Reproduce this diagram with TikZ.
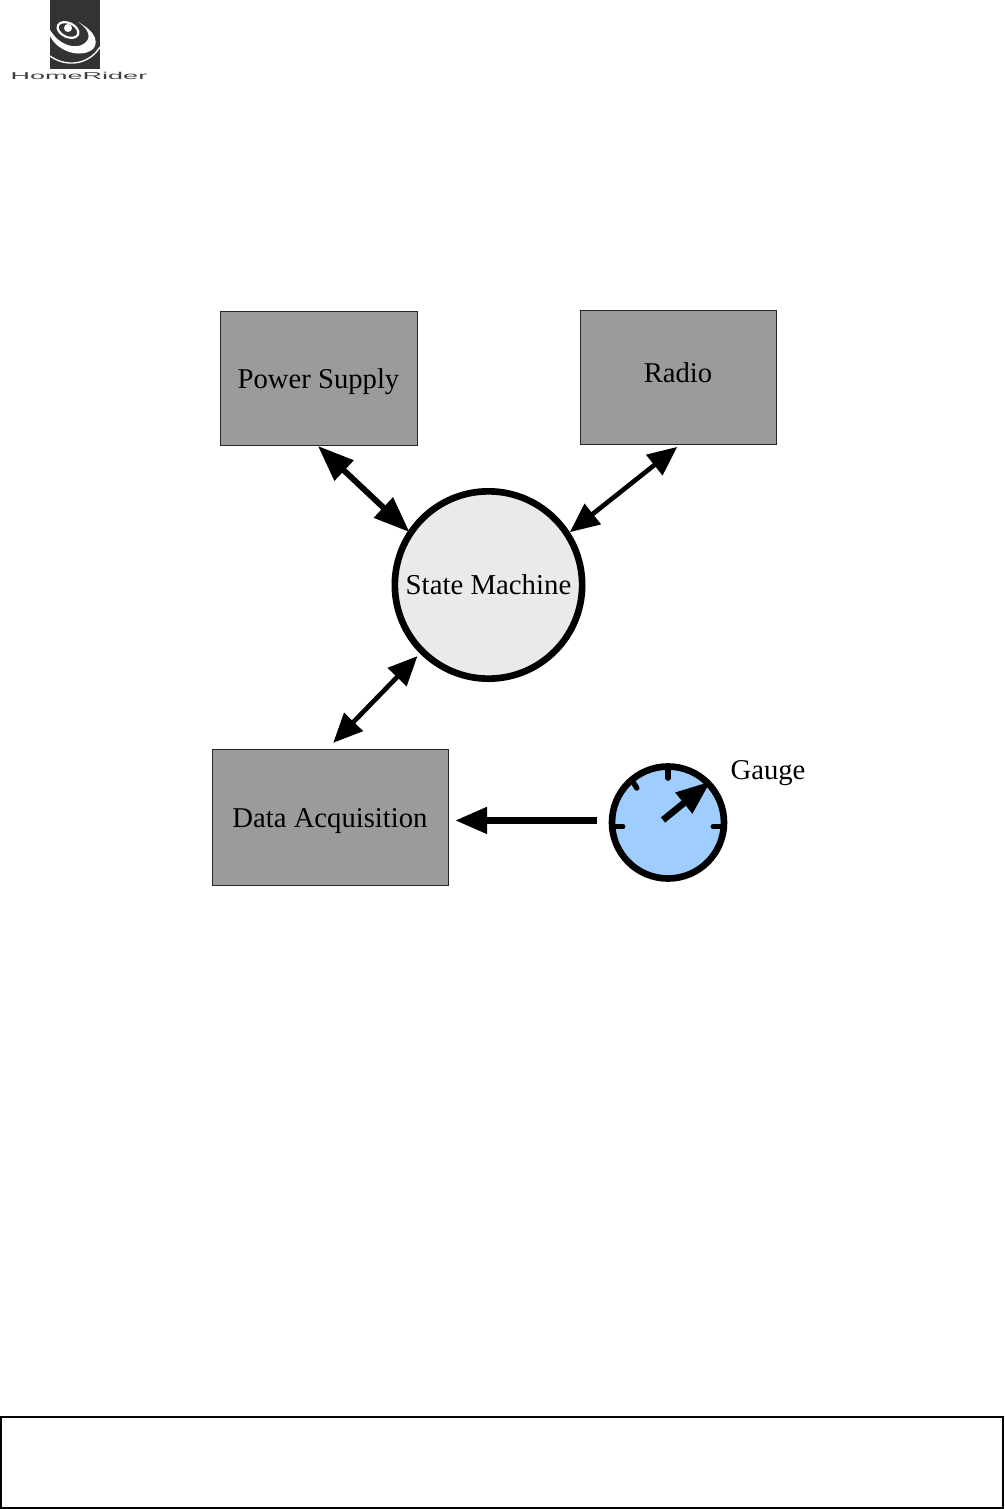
\documentclass[tikz,border=0pt]{standalone}
\usepackage{fontspec}
\setmainfont{Liberation Serif}
\newfontfamily\logofont{Liberation Sans}
\usetikzlibrary{arrows.meta}
\definecolor{boxgray}{HTML}{9C9A9C}
\definecolor{machinegray}{HTML}{ECE9EC}
\definecolor{gaugeblue}{HTML}{9FCDFD}
\definecolor{logodark}{HTML}{333333}
\tikzset{
    blockbox/.style={draw=black!85,line width=0.6pt,fill=boxgray,inner sep=0pt,text height=20pt,text depth=5pt,font=\fontsize{21.5pt}{24pt}\selectfont},
    linkbig/.style={line width=4.4pt,{Triangle[length=27pt,width=20pt]}-{Triangle[length=27pt,width=20pt]}},
    linksmall/.style={line width=3.5pt,{Triangle[length=22pt,width=19pt]}-{Triangle[length=22pt,width=19pt]}},
    tickline/.style={line width=4pt,line cap=round,shorten <=3pt}
}
\begin{document}
\begin{tikzpicture}[x=0.75pt,y=-0.75pt]
    \useasboundingbox (0,0) rectangle (1004,1509);
    \fill[logodark] (50,0) rectangle (100,69);
    \fill[white] (68,28) circle (4);
    \draw[white,line width=1.6pt,rotate around={-25:(68,30)}] (68,30) ellipse (11 and 7);
    \fill[white] (50,36) .. controls (58,52) and (80,58) .. (92,50) .. controls (99,44) and (97,32) .. (78,22) .. controls (90,30) and (91,38) .. (85,43) .. controls (76,50) and (60,46) .. (50,30) -- cycle;
    \draw[white,line width=1pt] (50,56) .. controls (65,67) and (88,66) .. (100,47);
    \node[font=\logofont\fontsize{7.5pt}{8pt}\selectfont,xscale=2.7,text=black!75,inner sep=0pt] (logotext) at (79,75.5) {HomeRider};

    \node[blockbox,minimum width=147.75pt,minimum height=100.5pt] (supply) at (318.5,378) {Power Supply};
    \node[blockbox,minimum width=147pt,minimum height=100.5pt,text height=15pt,text depth=6.3pt] (radio) at (678,377) {Radio};
    \node[blockbox,minimum width=177pt,minimum height=102pt] (acq) at (330,817) {Data Acquisition};
    \node[circle,draw=black,line width=5pt,fill=machinegray,minimum size=140.5pt,inner sep=0pt,font=\fontsize{21.6pt}{24pt}\selectfont] (machine) at (488.5,585) {State Machine};
    \node[circle,draw=black,line width=5pt,fill=gaugeblue,minimum size=84pt,inner sep=0pt] (gauge) at (668,822.5) {};
    \node[font=\fontsize{21.5pt}{24pt}\selectfont,inner sep=0pt] (gaugetext) at (768,773) {Gauge};

    \draw[linkbig,shorten <=0.6pt,shorten >=-1.5pt] (supply.269) -- (machine.146);
    \draw[linksmall,shorten <=3pt] (radio.272) -- (machine.33);
    \draw[linksmall,shorten <=6pt,shorten >=2.6pt] (acq.92) -- (machine.225);
    \draw[line width=5pt,-{Triangle[length=24pt,width=19pt]},shorten <=9pt,shorten >=5pt] (gauge.178) -- (acq.east |- gauge.178);

    \draw[tickline] (gauge.north) -- ++(0,15);
    \draw[tickline] (gauge.184) -- ++(14,0);
    \draw[tickline] (gauge.356) -- ++(-14,0);
    \draw[tickline] (gauge.130) -- ++(7,11);
    \coordinate (needletail) at (663,820);
    \draw[line width=5pt,-{Triangle[length=26pt,width=19pt]}] (needletail) -- (gauge.44);

    \node[rectangle,draw=black,line width=0.9pt,minimum width=751.5pt,minimum height=68.25pt,inner sep=0pt] (footer) at (502,1462.5) {};
\end{tikzpicture}
\end{document}
